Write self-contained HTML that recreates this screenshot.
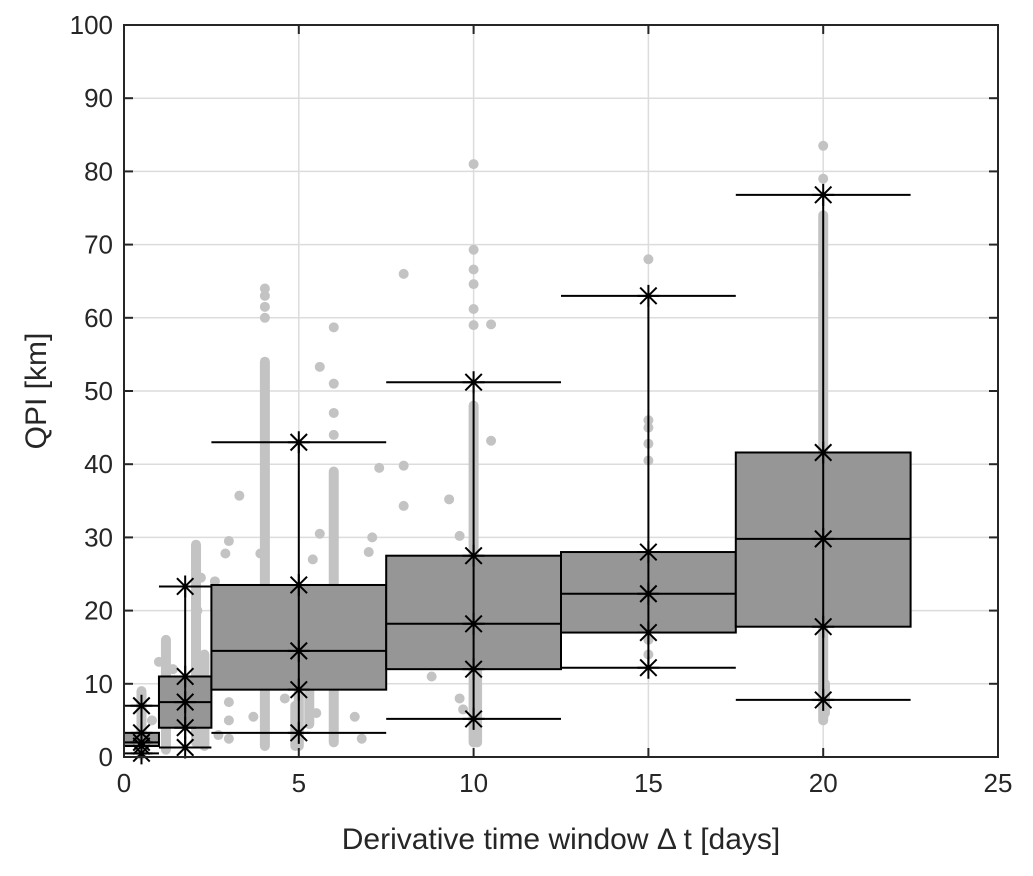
<!DOCTYPE html>
<html><head><meta charset="utf-8"><style>
html,body{margin:0;padding:0;background:#fff;}
svg{display:block;font-family:"Liberation Sans",Arial,sans-serif;}
</style></head><body>
<svg id="chart" width="1033" height="876"></svg>
<script>
const xTicks=[0,5,10,15,20,25];
const yTicks=[0,10,20,30,40,50,60,70,80,90,100];
// boxes
const boxCenters=[0.5,1.75,5,10,15,20];
const boxLefts=[0,1,2.5,7.5,12.5,17.5];
const boxRights=[1,2.5,7.5,12.5,17.5,22.5];
const whiskLow=[0.5,1.3,3.3,5.2,12.2,7.8];
const q1s=[1.5,4.0,9.2,12.0,17.0,17.8];
const medians=[2.0,7.5,14.5,18.2,22.3,29.8];
const q3s=[3.3,11.0,23.5,27.5,28.0,41.6];
const whiskHigh=[7.0,23.3,43.0,51.2,63.0,76.8];
// dense scatter streaks: x, yMin, yMax
const streakX=[4.03,6.0,2.06,10.0,20.0,5.0,0.5,1.2,2.3,4.9,5.3,10.1,20.05];
const streakMin=[1.5,2.0,2.0,2.0,5.0,1.5,0.3,1.0,1.5,1.5,4.5,2.0,6.0];
const streakMax=[54,39,29,48,74,10,9,16,14,7,9,14,10];
// isolated scatter points
const ptX=[4.03,4.03,4.03,4.03,6.0,6.0,6.0,6.0,5.6,7.3,7.0,7.1,3.3,2.9,3.0,3.9,2.6,10.0,10.0,10.0,10.0,10.0,10.0,8.0,8.0,8.0,10.5,10.5,9.3,9.6,8.8,9.6,9.7,15.0,15.0,15.0,15.0,15.0,15.0,15.0,20.0,20.0,20.0,20.0,5.6,5.4,3.0,2.2,2.1,3.0,3.7,1.4,1.0,4.6,5.5,6.6,6.8,1.5,2.7,3.0,0.8];
const ptY=[60,61.5,63,64,44,47,51,58.7,53.3,39.5,28,30,35.7,27.8,29.5,27.8,24,81,69.3,66.6,64.6,61.2,59,66,39.8,34.3,59.1,43.2,35.2,30.2,11,8,6.5,68,46,45,42.8,40.5,16,14,83.5,79,66,60,30.5,27,5,24.5,20,2.5,5.5,12,13,8,6,5.5,2.5,10,3,7.5,5];
const X0=124,X1=998,Y0=757,Y1=25;
const xs=v=>X0+(v/25)*(X1-X0);
const ys=v=>Y0-(v/100)*(Y0-Y1);
const svg=document.getElementById('chart');
const NS='http://www.w3.org/2000/svg';
function mk(tag,attrs,parent){const e=document.createElementNS(NS,tag);for(const k in attrs)e.setAttribute(k,attrs[k]);(parent||svg).appendChild(e);return e;}
const grid=mk('g',{});


xTicks.forEach(t=>{if(t>0&&t<25)mk('line',{x1:xs(t),x2:xs(t),y1:Y1,y2:Y0,stroke:'#dcdcdc','stroke-width':1.5},grid);});
yTicks.forEach(t=>{if(t>0&&t<100)mk('line',{x1:X0,x2:X1,y1:ys(t),y2:ys(t),stroke:'#dcdcdc','stroke-width':1.5},grid);});
const sc=mk('g',{fill:'#c3c3c3'});


streakX.forEach((x,i)=>{const l=mk('line',{x1:xs(x),x2:xs(x),y1:ys(streakMin[i]),y2:ys(streakMax[i]),stroke:'#c3c3c3','stroke-width':10,'stroke-linecap':'round'},sc);

});
ptX.forEach((x,i)=>{const c=mk('circle',{cx:xs(x),cy:ys(ptY[i]),r:5},sc);

});
function star(g,cx,cy){const s=11;mk('path',{d:`M${cx-s} ${cy}H${cx+s}M${cx-s*0.75} ${cy-s*0.75}L${cx+s*0.75} ${cy+s*0.75}M${cx-s*0.75} ${cy+s*0.75}L${cx+s*0.75} ${cy-s*0.75}M${cx} ${cy-s}V${cy+s}`,stroke:'#000','stroke-width':2,fill:'none'},g);}
boxCenters.forEach((c,i)=>{
 const g=mk('g',{});
 
 
 const l=xs(boxLefts[i]),r=xs(boxRights[i]),cx=xs(c);
 mk('line',{x1:cx,x2:cx,y1:ys(whiskLow[i]),y2:ys(whiskHigh[i]),stroke:'#000','stroke-width':2},g);
 mk('rect',{x:l,y:ys(q3s[i]),width:r-l,height:ys(q1s[i])-ys(q3s[i]),fill:'#969696',stroke:'#000','stroke-width':2},g);
 mk('line',{x1:cx,x2:cx,y1:ys(q3s[i]),y2:ys(q1s[i]),stroke:'#000','stroke-width':2},g);
 mk('line',{x1:l,x2:r,y1:ys(medians[i]),y2:ys(medians[i]),stroke:'#000','stroke-width':2},g);
 mk('line',{x1:l,x2:r,y1:ys(whiskLow[i]),y2:ys(whiskLow[i]),stroke:'#000','stroke-width':2},g);
 mk('line',{x1:l,x2:r,y1:ys(whiskHigh[i]),y2:ys(whiskHigh[i]),stroke:'#000','stroke-width':2},g);
 [whiskLow[i],q1s[i],medians[i],q3s[i],whiskHigh[i]].forEach(v=>star(g,cx,ys(v)));
});
const ax=mk('rect',{x:X0,y:Y1,width:X1-X0,height:Y0-Y1,fill:'none',stroke:'#262626','stroke-width':2});


xTicks.forEach(t=>{mk('line',{x1:xs(t),x2:xs(t),y1:Y0,y2:Y0-9,stroke:'#262626','stroke-width':2});mk('line',{x1:xs(t),x2:xs(t),y1:Y1,y2:Y1+9,stroke:'#262626','stroke-width':2});
 const tx=mk('text',{x:xs(t),y:Y0+35,'font-size':26,'text-anchor':'middle',fill:'#262626'});tx.textContent=t;
 
 });
yTicks.forEach(t=>{mk('line',{x1:X0,x2:X0+9,y1:ys(t),y2:ys(t),stroke:'#262626','stroke-width':2});mk('line',{x1:X1,x2:X1-9,y1:ys(t),y2:ys(t),stroke:'#262626','stroke-width':2});
 const tx=mk('text',{x:X0-11,y:ys(t)+9,'font-size':26,'text-anchor':'end',fill:'#262626'});tx.textContent=t;
 
 });
const xt=mk('text',{x:561,y:849,'font-size':30,'text-anchor':'middle',fill:'#262626'});xt.textContent='Derivative time window \u0394 t [days]';


const yt=mk('text',{x:0,y:0,'font-size':30,'text-anchor':'middle',fill:'#262626',transform:'translate(46,391) rotate(-90)'});yt.textContent='QPI [km]';


</script>
</body></html>
